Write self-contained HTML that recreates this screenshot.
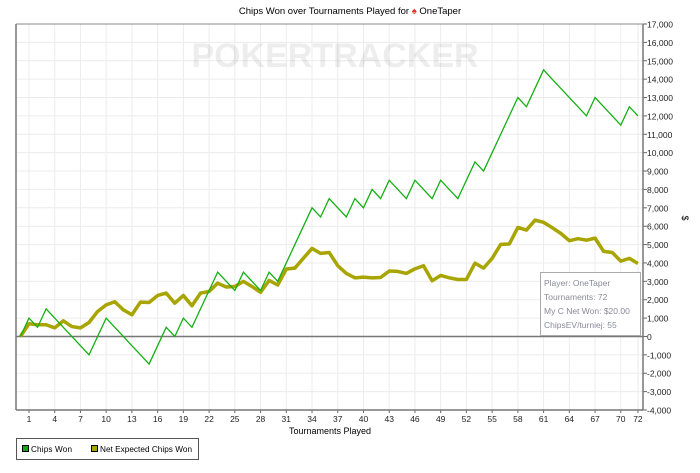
<!DOCTYPE html>
<html><head><meta charset="utf-8"><style>
html,body{margin:0;padding:0;background:#fff;}
body{width:700px;height:468px;overflow:hidden;font-family:"Liberation Sans",sans-serif;}
svg text{font-family:"Liberation Sans",sans-serif;}
</style></head><body>
<svg id="c" width="700" height="468" xmlns="http://www.w3.org/2000/svg">
<text x="350" y="14" font-size="9.5" text-anchor="middle" fill="#000">Chips Won over Tournaments Played for <tspan fill="#e0301e">♠</tspan> OneTaper</text>
<g id="grid"></g>
<text x="335" y="67" font-size="34" font-weight="bold" fill="#000" fill-opacity="0.07" text-anchor="middle">POKERTRACKER</text>
<g id="axes"></g><g id="series"></g>
<g>
<rect x="540.5" y="272.5" width="100" height="63" fill="#fff" stroke="#aaa"/>
<text x="544" y="286" font-size="8.5" fill="#8a8a9a">Player: OneTaper</text>
<text x="544" y="300" font-size="8.5" fill="#8a8a9a">Tournaments: 72</text>
<text x="544" y="314" font-size="8.5" fill="#8a8a9a">My C Net Won: $20.00</text>
<text x="544" y="328" font-size="8.5" fill="#8a8a9a">ChipsEV/turniej: 55</text>
</g>
<text x="330" y="434" font-size="9" text-anchor="middle">Tournaments Played</text>
<text x="682" y="218" font-size="9" text-anchor="middle" transform="rotate(90 682 218)">$</text>
<g>
<rect x="16.5" y="438.5" width="182" height="21" fill="#fff" stroke="#555"/>
<g><rect x="22.5" y="445.5" width="6" height="6" fill="#1aa31a" stroke="#000"/><text x="31" y="452" font-size="8.2" textLength="41">Chips Won</text></g>
<g><rect x="91.5" y="445.5" width="6" height="6" fill="#a8a400" stroke="#000"/><text x="100" y="452" font-size="8.2" textLength="92">Net Expected Chips Won</text></g>
</g>
</svg>
<script>
const chipsWon=[0,1000,500,1500,1000,500,0,-500,-1000,0,1000,500,0,-500,-1000,-1500,-500,500,0,1000,500,1500,2500,3500,3000,2500,3500,3000,2500,3500,3000,4000,5000,6000,7000,6500,7500,7000,6500,7500,7000,8000,7500,8500,8000,7500,8500,8000,7500,8500,8000,7500,8500,9500,9000,10000,11000,12000,13000,12500,13500,14500,14000,13500,13000,12500,12000,13000,12500,12000,11500,12500,12000];
const netExpected=[0,690,640,640,470,850,540,470,760,1360,1720,1890,1450,1180,1870,1850,2230,2360,1810,2230,1670,2360,2450,2900,2690,2720,3000,2720,2400,3050,2800,3670,3720,4260,4790,4520,4570,3850,3430,3190,3230,3190,3210,3560,3540,3430,3680,3850,3030,3320,3190,3100,3100,3990,3720,4250,5010,5030,5930,5790,6330,6210,5920,5610,5210,5320,5240,5350,4630,4570,4100,4250,3970];
const yTicks=[17000,16000,15000,14000,13000,12000,11000,10000,9000,8000,7000,6000,5000,4000,3000,2000,1000,0,-1000,-2000,-3000,-4000];
const xTicks=[1,4,7,10,13,16,19,22,25,28,31,34,37,40,43,46,49,52,55,58,61,64,67,70,72];
const NS="http://www.w3.org/2000/svg";
const L=16,R=643,T=24,B=410;
const x=v=>20.4+v*8.577;
const y=v=>T+(17000-v)/21000*(B-T);
const fmt=v=>(v<0?"-":"")+Math.abs(v).toLocaleString("en-US");
function mk(tag,attrs,parent){const e=document.createElementNS(NS,tag);for(const k in attrs)e.setAttribute(k,attrs[k]);parent.appendChild(e);return e;}
const grid=document.getElementById("grid"),axes=document.getElementById("axes"),ser=document.getElementById("series");
mk("rect",{x:L,y:T,width:R-L,height:B-T,fill:"#fff"},grid);
yTicks.forEach(v=>{
 const g=mk("line",{x1:L,x2:R,y1:y(v),y2:y(v),stroke:"#ececec"},grid);
 
 
 mk("line",{x1:R,x2:R+4,y1:y(v),y2:y(v),stroke:"#666"},axes);
 const t=mk("text",{x:R+4,y:y(v)+3.5,"font-size":8.5,fill:"#222"},axes);
 t.textContent=fmt(v);
 
 
});
xTicks.forEach(v=>{
 const g=mk("line",{x1:x(v),x2:x(v),y1:T,y2:B,stroke:"#ececec"},grid);
 
 
 mk("line",{x1:x(v),x2:x(v),y1:B,y2:B+3,stroke:"#666"},axes);
 const t=mk("text",{x:x(v),y:B+12,"font-size":8.5,"text-anchor":"middle",fill:"#222"},axes);
 t.textContent=v;
 
 
});
mk("line",{x1:L,x2:R,y1:T,y2:T,stroke:"#888"},axes);
mk("line",{x1:L,x2:L,y1:T,y2:B,stroke:"#777","stroke-width":1.5},axes);
mk("line",{x1:R,x2:R,y1:T,y2:B,stroke:"#777","stroke-width":1.5},axes);
mk("line",{x1:L,x2:R,y1:B,y2:B,stroke:"#777","stroke-width":1.5},axes);
const z=mk("line",{x1:L,x2:R,y1:y(0),y2:y(0),stroke:"#777","stroke-width":1.5},axes);


const ev=mk("polyline",{points:netExpected.map((v,i)=>x(i)+","+y(v)).join(" "),fill:"none",stroke:"#a8a400","stroke-width":3.5,"stroke-linejoin":"round"},ser);


const cw=mk("polyline",{points:chipsWon.map((v,i)=>x(i)+","+y(v)).join(" "),fill:"none",stroke:"#14b014","stroke-width":1.3},ser);


</script>
</body></html>
